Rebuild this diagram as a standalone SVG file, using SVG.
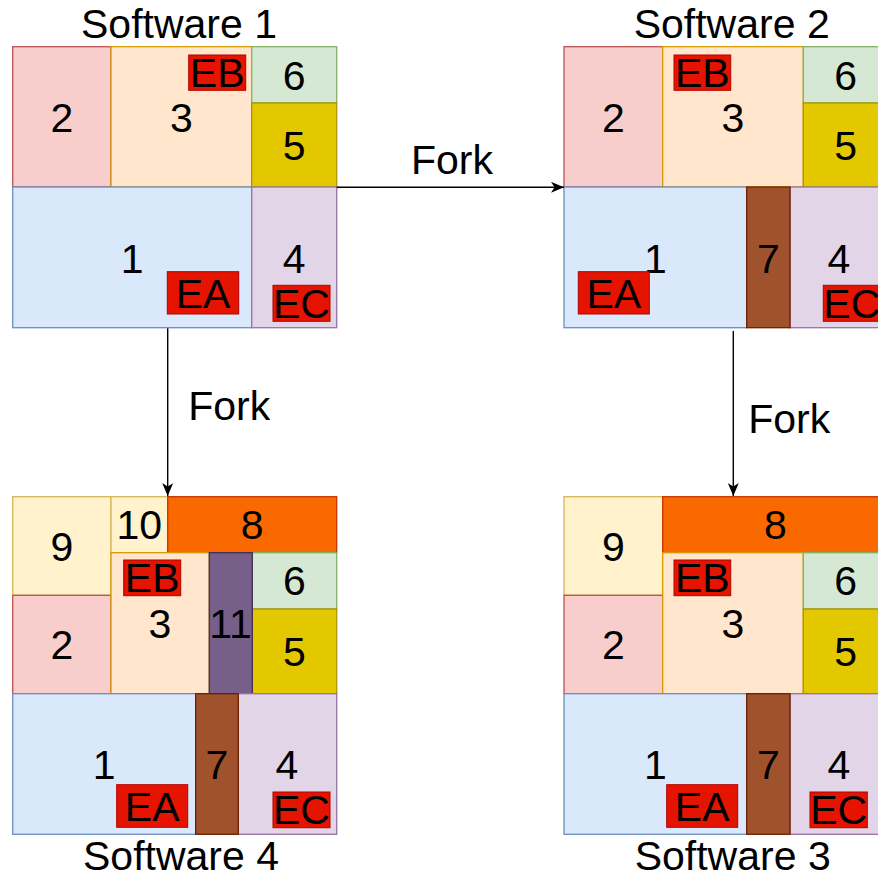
<svg xmlns="http://www.w3.org/2000/svg" width="878" height="878" viewBox="0 0 878 878">
<style>
text{font-family:"Liberation Sans",Arial,sans-serif;font-size:41px;fill:#000;text-anchor:middle}
rect{stroke-width:1.3}
.c1{fill:#dae8fc;stroke:#6c8ebf}
.c2{fill:#f8cecc;stroke:#b85450}
.c3{fill:#ffe6cc;stroke:#d79b00}
.c4{fill:#e1d5e7;stroke:#9673a6}
.c5{fill:#e3c800;stroke:#b09500}
.c6{fill:#d5e8d4;stroke:#82b366}
.c7{fill:#a0522d;stroke:#6d1f00}
.c8{fill:#fa6800;stroke:#c73500}
.c9{fill:#fff2cc;stroke:#d6b656}
.c11{fill:#76608a;stroke:#432d57}
.err{fill:#e51400;stroke:#b20000;stroke-width:1}
.edge{stroke:#000;stroke-width:1.4;fill:none}
</style>
<defs>
<marker id="arr" markerUnits="userSpaceOnUse" viewBox="0 0 13 11" refX="13" refY="5.5" markerWidth="13" markerHeight="11" orient="auto">
<path d="M0,0 L13,5.5 L0,11 L3.5,5.5 Z" fill="#000"/>
</marker>
</defs>

<g id="software1">
<text x="179" y="37.7">Software 1</text>
<g id="s1-n2"><rect class="c2" x="12.7" y="46.7" width="98.3" height="140.3"/><text x="61.8" y="131.8">2</text></g>
<g id="s1-n3"><rect class="c3" x="111" y="46.7" width="140.7" height="140.3"/><text x="181.3" y="131.8">3</text></g>
<g id="s1-n6"><rect class="c6" x="251.7" y="46.7" width="85" height="56.3"/><text x="294.2" y="89.6">6</text></g>
<g id="s1-n5"><rect class="c5" x="251.7" y="103" width="85" height="84"/><text x="294.2" y="159.8">5</text></g>
<g id="s1-n1"><rect class="c1" x="12.7" y="187" width="239" height="140.7"/><text x="132.2" y="272.5">1</text></g>
<g id="s1-n4"><rect class="c4" x="251.7" y="187" width="85" height="140.7"/><text x="294.2" y="272.5">4</text></g>
<g id="s1-eb"><rect class="err" x="188.7" y="55" width="57" height="35.3"/><text x="217.2" y="87.3">EB</text></g>
<g id="s1-ea"><rect class="err" x="167.3" y="271.7" width="71.4" height="42.3"/><text x="203" y="308">EA</text></g>
<g id="s1-ec"><rect class="err" x="273" y="285.3" width="57" height="36"/><text x="301.5" y="318.3">EC</text></g>
</g>

<g id="software2">
<text x="731.7" y="37.7">Software 2</text>
<g id="s2-n2"><rect class="c2" x="564" y="46.7" width="98.7" height="140.3"/><text x="613.3" y="131.8">2</text></g>
<g id="s2-n3"><rect class="c3" x="662.7" y="46.7" width="140.6" height="140.3"/><text x="733" y="131.8">3</text></g>
<g id="s2-n6"><rect class="c6" x="803.3" y="46.7" width="85" height="56.3"/><text x="845.7" y="89.6">6</text></g>
<g id="s2-n5"><rect class="c5" x="803.3" y="103" width="85" height="84"/><text x="845.7" y="159.8">5</text></g>
<g id="s2-n1"><rect class="c1" x="564" y="187" width="182.7" height="140.7"/><text x="655.3" y="272.5">1</text></g>
<g id="s2-n4"><rect class="c4" x="790" y="187" width="98" height="140.7"/><text x="839" y="272.5">4</text></g>
<g id="s2-n7"><rect class="c7" x="746.7" y="187" width="43.3" height="140.7"/><text x="768.3" y="272.5">7</text></g>
<g id="s2-eb"><rect class="err" x="674" y="55" width="56.7" height="35.3"/><text x="702.3" y="87.3">EB</text></g>
<g id="s2-ea"><rect class="err" x="578.3" y="271.7" width="71" height="42.3"/><text x="613.8" y="308">EA</text></g>
<g id="s2-ec"><rect class="err" x="823.3" y="285.3" width="57" height="36"/><text x="851.8" y="318.3">EC</text></g>
</g>

<g id="software4">
<text x="181" y="870">Software 4</text>
<g id="s4-n9"><rect class="c9" x="12.7" y="496.7" width="98.3" height="98.6"/><text x="61.8" y="560.8">9</text></g>
<g id="s4-n10"><rect class="c9" x="111" y="496.7" width="56.7" height="56"/><text x="139.3" y="539.3">10</text></g>
<g id="s4-n8"><rect class="c8" x="167.7" y="496.7" width="169" height="56"/><text x="252.2" y="539.3">8</text></g>
<g id="s4-n2"><rect class="c2" x="12.7" y="595.3" width="98.3" height="98.4"/><text x="61.8" y="659.3">2</text></g>
<g id="s4-n3"><rect class="c3" x="111" y="552.7" width="98.3" height="141"/><text x="160" y="637.8">3</text></g>
<g id="s4-n6"><rect class="c6" x="252.3" y="552.7" width="84.4" height="56.3"/><text x="294.5" y="595.3">6</text></g>
<g id="s4-n5"><rect class="c5" x="252.3" y="609" width="84.4" height="84.7"/><text x="294.5" y="666">5</text></g>
<g id="s4-n11"><rect class="c11" x="209.3" y="552.7" width="43" height="141"/><text x="230.5" y="637.8">11</text></g>
<g id="s4-n1"><rect class="c1" x="12.7" y="693.7" width="183" height="140.6"/><text x="104.2" y="778.6">1</text></g>
<g id="s4-n4"><rect class="c4" x="238.3" y="693.7" width="98.4" height="140.6"/><text x="287" y="778.6">4</text></g>
<g id="s4-n7"><rect class="c7" x="195.7" y="693.7" width="42.6" height="140.6"/><text x="217" y="778.6">7</text></g>
<g id="s4-eb"><rect class="err" x="123.7" y="560" width="57" height="35.7"/><text x="152.2" y="592.3">EB</text></g>
<g id="s4-ea"><rect class="err" x="116.7" y="784.7" width="71" height="42.6"/><text x="152.2" y="820.8">EA</text></g>
<g id="s4-ec"><rect class="err" x="273" y="792" width="57" height="35.7"/><text x="301.5" y="824.3">EC</text></g>
</g>

<g id="software3">
<text x="732.7" y="870">Software 3</text>
<g id="s3-n9"><rect class="c9" x="564" y="496.7" width="98.7" height="98.6"/><text x="613.3" y="560.8">9</text></g>
<g id="s3-n8"><rect class="c8" x="662.7" y="496.7" width="225.3" height="56"/><text x="775.3" y="539.3">8</text></g>
<g id="s3-n2"><rect class="c2" x="564" y="595.3" width="98.7" height="98.4"/><text x="613.3" y="659.3">2</text></g>
<g id="s3-n3"><rect class="c3" x="662.7" y="552.7" width="140.6" height="141"/><text x="733" y="637.8">3</text></g>
<g id="s3-n6"><rect class="c6" x="803.3" y="552.7" width="85" height="56.3"/><text x="845.7" y="595.3">6</text></g>
<g id="s3-n5"><rect class="c5" x="803.3" y="609" width="85" height="84.7"/><text x="845.7" y="666">5</text></g>
<g id="s3-n1"><rect class="c1" x="564" y="693.7" width="182.7" height="140.6"/><text x="655.3" y="778.6">1</text></g>
<g id="s3-n4"><rect class="c4" x="790" y="693.7" width="98" height="140.6"/><text x="839" y="778.6">4</text></g>
<g id="s3-n7"><rect class="c7" x="746.7" y="693.7" width="43.3" height="140.6"/><text x="768.3" y="778.6">7</text></g>
<g id="s3-eb"><rect class="err" x="674" y="560" width="56.7" height="35.7"/><text x="702.3" y="592.3">EB</text></g>
<g id="s3-ea"><rect class="err" x="666.7" y="784.7" width="71" height="42.6"/><text x="702.2" y="820.8">EA</text></g>
<g id="s3-ec"><rect class="err" x="810" y="792" width="57.3" height="35.7"/><text x="838.7" y="824.3">EC</text></g>
</g>

<g id="connectors">
<path class="edge" d="M336.7,187.3 L564,187.3" marker-end="url(#arr)"/>
<text x="452" y="174.3">Fork</text>
<path class="edge" d="M167.7,328.3 L167.7,496" marker-end="url(#arr)"/>
<text x="229.2" y="420">Fork</text>
<path class="edge" d="M733.3,331 L733.3,496" marker-end="url(#arr)"/>
<text x="789.2" y="433.3">Fork</text>
</g>
</svg>
